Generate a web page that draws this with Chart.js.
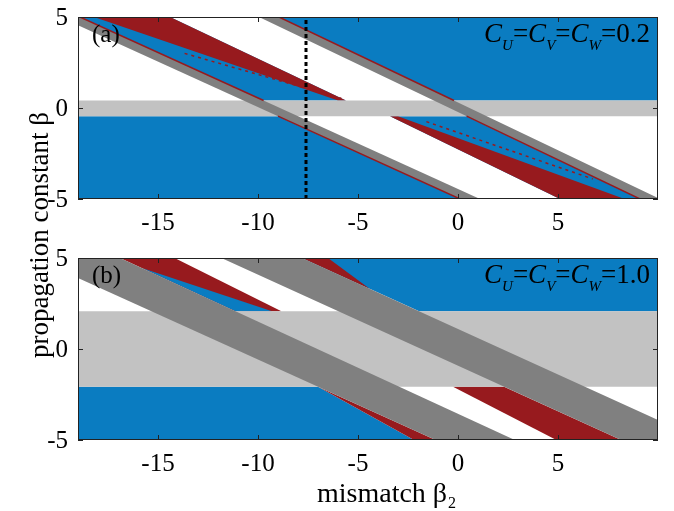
<!DOCTYPE html>
<html>
<head>
<meta charset="utf-8">
<script src="https://cdn.jsdelivr.net/npm/chart.js@4.4.1/dist/chart.umd.min.js"></script>
<style>
    html, body { margin: 0; padding: 0; background: #fff; }
    #wrap { position: relative; width: 674px; height: 511px; }
    #wrap canvas { position: absolute; left: 0; top: 0; }
</style>
</head>
<body>
<div id="wrap">
    <canvas id="chartA" width="674" height="511"></canvas>
    <canvas id="chartB" width="674" height="511"></canvas>
</div>
<script>
// axes
const xRange = [-19, 10];
const yRange = [-5, 5];
const xTicks = [-15, -10, -5, 0, 5];
const yTicks = [-5, 0, 5];

// panel (a), C_U = C_V = C_W = 0.2 -- region outlines as [beta2, beta]
const aCoupling = '0.2';
const aBand = [[-19, 0.41], [10, 0.41], [10, -0.45], [-19, -0.45]];
const aStripMain = [[-9.95, 5], [-8.95, 5], [10, -4.95], [10, -5], [9.1, -5]];
const aStripSide = [[-19, 5], [-18.9, 5], [1.1, -5], [0.1, -5], [-19, 4.55]];
const aBlueTop = [[-8.95, 5], [10, 5], [10, 0.41], [-0.2, 0.41]];
const aBlueBottom = [[-19, -0.45], [-9.0, -0.45], [0.1, -5], [-19, -5]];
const aBlueUpper = [[-18.9, 5], [-14.4, 5], [-5.6, 0.41], [-9.72, 0.41]];
const aBlueLower = [[-3.4, -0.45], [0.43, -0.45], [9.1, -5], [5.1, -5]];
const aRedUpper = [[-18.2, 5], [-14.4, 5], [-5.6, 0.41], [-6.0, 0.41]];
const aRedLower = [[-3.4, -0.45], [-3.0, -0.45], [8.33, -5], [5.1, -5]];
const aEdges = [
    [[-18.9, 5], [-9.72, 0.41]],
    [[-9.0, -0.45], [0.1, -5]],
    [[-8.95, 5], [-0.2, 0.41]],
    [[0.43, -0.45], [9.1, -5]]
];
const aSpecks = [
    [[-13.67, 3.0], [-5.83, 0.53]],
    [[-1.58, -0.75], [6.74, -3.9]]
];
const aCut = [[-7.6, -5], [-7.6, 5]];

// panel (b), C_U = C_V = C_W = 1.0
const bCoupling = '1.0';
const bBand = [[-19, 2.07], [10, 2.07], [10, -2.07], [-19, -2.07]];
const bStripMain = [[-11.83, 5], [-7.8, 5], [10, -3.9], [10, -5], [8.16, -5]];
const bStripSide = [[-19, 5], [-16.9, 5], [2.84, -5], [-1.12, -5], [-19, 3.9]];
const bBlueTop = [[-7.8, 5], [10, 5], [10, 2.07], [-1.94, 2.07]];
const bBlueBottom = [[-19, -2.07], [-7.0, -2.07], [-2.2, -5], [-19, -5]];
const bRedTop = [[-7.8, 5], [-6.5, 5], [-4.4, 3.3]];
const bRedBottom = [[-7.0, -2.07], [-1.12, -5], [-2.2, -5]];
const bRedUpper = [[-16.9, 5], [-14.17, 5], [-8.83, 2.07], [-11.12, 2.07]];
const bBlueUpper = [[-15.8, 4.45], [-9.3, 2.07], [-11.12, 2.07]];
const bRedLower = [[-0.25, -2.07], [2.3, -2.07], [8.16, -5], [4.92, -5]];

const BLUE = '#0a7cc1';
const RED = '#971a1e';
const DARK = '#808080';
const LIGHT = '#c2c2c2';
const SERIF = '"Liberation Serif", "Times New Roman", serif';

function toXY(pts) {
    return pts.map(([x, y]) => ({ x, y }));
}

function makeDatasets(fills, lines) {
    const sets = [];
    fills.forEach(([pts, color]) => sets.push({
        data: toXY(pts), showLine: true, fill: 'shape',
        backgroundColor: color, borderColor: color, borderWidth: 0, pointRadius: 0
    }));
    lines.forEach(([pts, color, width, dash]) => sets.push({
        data: toXY(pts), showLine: true, fill: false,
        borderColor: color, borderWidth: width, borderDash: dash, pointRadius: 0
    }));
    // first listed is painted first (bottom)
    sets.forEach((s, i) => { s.order = sets.length - i; });
    return sets;
}

function drawCoupling(ctx, area, value) {
    const parts = [['C', 'i'], ['U', 's'], ['=', 'n'], ['C', 'i'], ['V', 's'], ['=', 'n'],
                   ['C', 'i'], ['W', 's'], ['=', 'n'], [value, 'n']];
    const fontOf = k => k === 'i' ? `italic 27px ${SERIF}` : (k === 's' ? `italic 15px ${SERIF}` : `27px ${SERIF}`);
    let w = 0;
    parts.forEach(([t, k]) => { ctx.font = fontOf(k); w += ctx.measureText(t).width; });
    let x = area.right - 8 - w;
    const base = area.top + 25;
    parts.forEach(([t, k]) => {
        ctx.font = fontOf(k);
        ctx.fillText(t, x, k === 's' ? base + 8 : base);
        x += ctx.measureText(t).width;
    });
}

function framePlugin(label, coupling, withTitles) {
    return {
        id: 'frame',
        afterDatasetsDraw(chart) {
            const { ctx, chartArea: a, scales: { x, y } } = chart;
            ctx.save();
            ctx.strokeStyle = '#222';
            ctx.lineWidth = 1;
            ctx.strokeRect(a.left + 0.5, a.top + 0.5, a.right - a.left - 1, a.bottom - a.top - 1);
            ctx.beginPath();
            xTicks.forEach(v => {
                const px = Math.round(x.getPixelForValue(v)) + 0.5;
                ctx.moveTo(px, a.bottom); ctx.lineTo(px, a.bottom - 5);
                ctx.moveTo(px, a.top); ctx.lineTo(px, a.top + 5);
            });
            yTicks.forEach(v => {
                const py = Math.round(y.getPixelForValue(v)) + 0.5;
                ctx.moveTo(a.left, py); ctx.lineTo(a.left + 5, py);
                ctx.moveTo(a.right, py); ctx.lineTo(a.right - 5, py);
            });
            ctx.stroke();

            ctx.fillStyle = '#000';

            // y tick labels, placed from the y scale
            ctx.font = `25px ${SERIF}`;
            ctx.textAlign = 'right';
            ctx.textBaseline = 'middle';
            yTicks.forEach(v => ctx.fillText(String(v), a.left - 10, y.getPixelForValue(v) + 1));

            ctx.textAlign = 'left';
            ctx.textBaseline = 'alphabetic';
            ctx.fillText(label, a.left + 14, a.top + 25);
            drawCoupling(ctx, a, coupling);

            if (withTitles) {
                ctx.font = `28px ${SERIF}`;
                ctx.fillText('mismatch β', 317, 502);
                const w = ctx.measureText('mismatch β').width;
                ctx.font = `16px ${SERIF}`;
                ctx.fillText('2', 317 + w + 1, 508);

                ctx.translate(41, 235);
                ctx.rotate(-Math.PI / 2);
                ctx.textAlign = 'center';
                ctx.textBaseline = 'middle';
                ctx.font = `27px ${SERIF}`;
                ctx.fillText('propagation constant β', 0, 0);
            }
            ctx.restore();
        }
    };
}

function makeChart(id, datasets, padTop, axisHeight, plugin) {
    const tickFont = { family: SERIF, size: 25 };
    return new Chart(document.getElementById(id), {
        type: 'scatter',
        data: { datasets },
        options: {
            responsive: false,
            animation: false,
            devicePixelRatio: 1,
            events: [],
            layout: { padding: { top: padTop, right: 16, left: 78, bottom: 0 } },
            plugins: { legend: { display: false }, tooltip: { enabled: false } },
            scales: {
                x: {
                    type: 'linear', min: xRange[0], max: xRange[1],
                    afterBuildTicks: s => { s.ticks = xTicks.map(v => ({ value: v })); },
                    afterFit: s => { s.height = axisHeight; },
                    grid: { display: false, drawTicks: false },
                    border: { display: false },
                    ticks: { font: tickFont, color: '#000', padding: 9, maxRotation: 0, autoSkip: false, callback: v => String(v) }
                },
                y: {
                    type: 'linear', min: yRange[0], max: yRange[1],
                    afterBuildTicks: s => { s.ticks = yTicks.map(v => ({ value: v })); },
                    afterFit: s => { s.width = 0; },
                    grid: { display: false, drawTicks: false },
                    border: { display: false },
                    ticks: { display: false }
                }
            }
        },
        plugins: [plugin]
    });
}

const setsA = makeDatasets(
    [
        [aBlueTop, BLUE], [aBlueBottom, BLUE], [aBlueUpper, BLUE], [aBlueLower, BLUE],
        [aRedUpper, RED], [aRedLower, RED],
        [aBand, LIGHT],
        [aStripMain, DARK], [aStripSide, DARK]
    ],
    [
        ...aEdges.map(e => [e, RED, 1.5, []]),
        ...aSpecks.map(e => [e, RED, 1.5, [3, 4]]),
        [aCut, '#000', 3, [4, 3]]
    ]
);

const setsB = makeDatasets(
    [
        [bBlueTop, BLUE], [bBlueBottom, BLUE],
        [bRedTop, RED], [bRedBottom, RED], [bRedUpper, RED], [bBlueUpper, BLUE], [bRedLower, RED],
        [bBand, LIGHT],
        [bStripMain, DARK], [bStripSide, DARK]
    ],
    []
);

makeChart('chartA', setsA, 17, 312, framePlugin('(a)', aCoupling, false));
makeChart('chartB', setsB, 258, 71, framePlugin('(b)', bCoupling, true));
</script>
</body>
</html>
